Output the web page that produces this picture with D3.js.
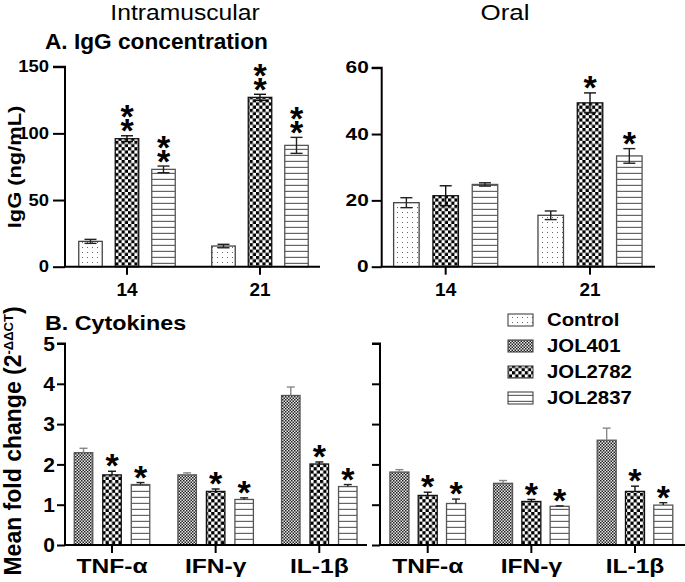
<!DOCTYPE html>
<html><head><meta charset="utf-8">
<script src="https://cdn.jsdelivr.net/npm/d3@7"></script>
<style>
body{margin:0;background:#fff;}
svg{display:block;}
text{font-family:"Liberation Sans",Arial,Helvetica,sans-serif;fill:#000;}
.vstars{writing-mode:vertical-rl;text-orientation:upright;}
</style>
</head><body>
<svg id="chart" width="685" height="582"></svg>
<script>
// ---------- DATA ----------
const days = ["14", "21"];
const igSeries = ["Control", "JOL2782", "JOL2837"];
// Intramuscular IgG (ng/mL)
const imControl = [19.0, 15.5];
const imControlErr = [1.5, 1.3];
const imJOL2782 = [96, 127];
const imJOL2782Err = [2.2, 2.3];
const imJOL2837 = [73, 91];
const imJOL2837Err = [2.5, 6.0];
const imStars2782 = ["**", "**"];
const imStars2837 = ["**", "**"];
// Oral IgG (ng/mL)
const oralControl = [19.3, 15.5];
const oralControlErr = [1.5, 1.3];
const oralJOL2782 = [21.4, 49.4];
const oralJOL2782Err = [3.0, 3.0];
const oralJOL2837 = [24.8, 33.4];
const oralJOL2837Err = [0.5, 2.2];
const oralStars2782 = ["", "*"];
const oralStars2837 = ["", "*"];
const imTicks = [0, 50, 100, 150];
const oralTicks = [0, 20, 40, 60];

const cytokines = ["TNF-α", "IFN-γ", "IL-1β"];
const cytSeries = ["JOL401", "JOL2782", "JOL2837"];
// Intramuscular fold change
const cimJOL401 = [2.29, 1.74, 3.71];
const cimJOL401Err = [0.11, 0.05, 0.21];
const cimJOL2782 = [1.74, 1.33, 2.01];
const cimJOL2782Err = [0.09, 0.06, 0.05];
const cimJOL2837 = [1.50, 1.13, 1.45];
const cimJOL2837Err = [0.05, 0.04, 0.05];
// Oral fold change
const coralJOL401 = [1.81, 1.53, 2.60];
const coralJOL401Err = [0.06, 0.07, 0.30];
const coralJOL2782 = [1.23, 1.08, 1.33];
const coralJOL2782Err = [0.08, 0.05, 0.13];
const coralJOL2837 = [1.03, 0.96, 0.99];
const coralJOL2837Err = [0.11, 0.01, 0.06];
const cytStars = ["*", "*", "*"];
const foldTicks = [0, 1, 2, 3, 4, 5];

const legendSeries = ["Control", "JOL401", "JOL2782", "JOL2837"];

// ---------- SETUP ----------
const svg = d3.select("#chart");
const defs = svg.append("defs");

// patterns
const pDots = defs.append("pattern").attr("id", "p-Control").attr("patternUnits", "userSpaceOnUse")
  .attr("width", 5).attr("height", 5);
pDots.append("rect").attr("width", 5).attr("height", 5).attr("fill", "#fff");
pDots.append("rect").attr("x", 2).attr("y", 2).attr("width", 1).attr("height", 1).attr("fill", "#666");

const pFine = defs.append("pattern").attr("id", "p-JOL401").attr("patternUnits", "userSpaceOnUse")
  .attr("width", 3).attr("height", 3);
pFine.append("rect").attr("width", 3).attr("height", 3).attr("fill", "#e8e8e8");
pFine.append("rect").attr("width", 1.5).attr("height", 1.5).attr("fill", "#222");
pFine.append("rect").attr("x", 1.5).attr("y", 1.5).attr("width", 1.5).attr("height", 1.5).attr("fill", "#222");

const pCheck = defs.append("pattern").attr("id", "p-JOL2782").attr("patternUnits", "userSpaceOnUse")
  .attr("width", 6.4).attr("height", 6.4);
pCheck.append("rect").attr("width", 6.4).attr("height", 6.4).attr("fill", "#fff");
pCheck.append("rect").attr("width", 3.2).attr("height", 3.2).attr("fill", "#000");
pCheck.append("rect").attr("x", 3.2).attr("y", 3.2).attr("width", 3.2).attr("height", 3.2).attr("fill", "#000");

const pStripe = defs.append("pattern").attr("id", "p-JOL2837").attr("patternUnits", "userSpaceOnUse")
  .attr("width", 6).attr("height", 6);
pStripe.append("rect").attr("width", 6).attr("height", 6).attr("fill", "#fff");
pStripe.append("rect").attr("x", 0).attr("y", 4.8).attr("width", 6).attr("height", 1.2).attr("fill", "#666");

const barStroke = {Control: "#444", JOL401: "#555", JOL2782: "#111", JOL2837: "#555"};
const errColor = {Control: "#222", JOL401: "#888", JOL2782: "#111", JOL2837: "#222"};

function stretch(sel, k) {
  sel.each(function () {
    const L = this.getComputedTextLength();
    this.setAttribute("textLength", L * k);
    this.setAttribute("lengthAdjust", "spacingAndGlyphs");
  });
}

const STAR_FS = 34;

function drawPanel(cfg) {
  const g = svg.append("g");
  const x = d3.scaleBand().domain(cfg.groups).range(cfg.band).paddingInner(0).paddingOuter(0);
  const s = cfg.subStep, w = cfg.barW;
  const xs = d3.scaleBand().domain(cfg.series.map(d => d.name))
    .range([-(s + w / 2), s + w / 2]).paddingInner(1 - w / s).paddingOuter(0);
  const y = d3.scaleLinear().domain(cfg.domain).range([cfg.yBot, cfg.yTop]);

  const rows = [];
  cfg.series.forEach(se => {
    cfg.groups.forEach((grp, i) => {
      rows.push({name: se.name, grp, v: se.values[i], e: se.errs[i], star: se.stars ? se.stars[i] : ""});
    });
  });
  const bx = d => x(d.grp) + x.bandwidth() / 2 + xs(d.name);
  const cx = d => bx(d) + xs.bandwidth() / 2;

  // bars
  g.selectAll("rect.bar").data(rows).join("rect").attr("class", "bar")
    .attr("x", bx).attr("width", xs.bandwidth())
    .attr("y", d => y(d.v)).attr("height", d => y(0) - y(d.v))
    .attr("fill", d => `url(#p-${d.name})`)
    .attr("stroke", d => barStroke[d.name]).attr("stroke-width", 1.3);

  // error bars
  const eg = g.append("g");
  const cap = cfg.cap;
  rows.forEach(d => {
    const top = y(d.v + d.e);
    const bot = cfg.twoSided ? y(d.v - d.e) : y(d.v);
    const col = errColor[d.name];
    eg.append("line").attr("x1", cx(d)).attr("x2", cx(d)).attr("y1", top).attr("y2", bot)
      .attr("stroke", col).attr("stroke-width", 1.4);
    eg.append("line").attr("x1", cx(d) - cap / 2).attr("x2", cx(d) + cap / 2).attr("y1", top).attr("y2", top)
      .attr("stroke", col).attr("stroke-width", 1.4);
    if (cfg.twoSided) {
      eg.append("line").attr("x1", cx(d) - cap / 2).attr("x2", cx(d) + cap / 2).attr("y1", bot).attr("y2", bot)
        .attr("stroke", col).attr("stroke-width", 1.4);
    }
    // stars
    const n = d.star.length;
    if (n === 1) {
      g.append("text").attr("x", cx(d)).attr("y", top - 13 + 0.56 * STAR_FS)
        .attr("text-anchor", "middle").attr("font-size", STAR_FS).attr("font-weight", "bold").text(d.star);
    } else if (n > 1) {
      // stacked vertically in one text element
      const upperCenter = top - 13 - (n - 1) * 14;
      g.append("text").attr("class", "vstars").attr("x", cx(d)).attr("y", upperCenter - 0.335 * STAR_FS)
        .attr("font-size", STAR_FS).attr("font-weight", "bold")
        .style("letter-spacing", "-24px").text(d.star);
    }
  });

  // y axis
  const ya = g.append("g").attr("transform", `translate(${cfg.x0},0)`)
    .call(d3.axisLeft(y).tickValues(cfg.ticks).tickSize(cfg.yTick).tickPadding(cfg.yPad)
      .tickFormat(cfg.showYLabels ? d3.format("d") : ""));
  ya.select(".domain").attr("stroke", "#000").attr("stroke-width", 2)
    .attr("d", `M${-cfg.yTick},${cfg.yTop}H0V${cfg.yBot}`);
  ya.selectAll(".tick line").attr("stroke", "#000").attr("stroke-width", 2);
  const yt = ya.selectAll(".tick text").attr("font-size", cfg.yFont).attr("font-weight", "bold")
    .attr("font-family", "Liberation Sans, Arial, sans-serif").attr("fill", "#000");
  if (cfg.showYLabels && cfg.yStretch) stretch(yt, cfg.yStretch);

  // x axis
  const xa = g.append("g").attr("transform", `translate(0,${cfg.yBot})`)
    .call(d3.axisBottom(x).tickSize(8).tickPadding(cfg.xPad));
  xa.select(".domain").remove();
  xa.append("line").attr("x1", cfg.x0 - 1).attr("x2", cfg.x1).attr("y1", 0).attr("y2", 0)
    .attr("stroke", "#000").attr("stroke-width", 2);
  xa.selectAll(".tick line").attr("stroke", "#000").attr("stroke-width", 2);
  const xt = xa.selectAll(".tick text").attr("font-size", cfg.xFont).attr("font-weight", "bold")
    .attr("font-family", "Liberation Sans, Arial, sans-serif").attr("fill", "#000");
  if (cfg.xStretch) stretch(xt, cfg.xStretch);
}

// ---------- PANELS ----------
drawPanel({
  groups: days, band: [60.5, 326.5], subStep: 36.5, barW: 23.5,
  domain: [0, 150], ticks: imTicks, yTop: 66.7, yBot: 266.7, x0: 65, x1: 320,
  yTick: 12, yPad: 4, yFont: 16, yStretch: 1.15, showYLabels: true,
  xPad: 8, xFont: 19, cap: 12, twoSided: true,
  series: [
    {name: "Control", values: imControl, errs: imControlErr},
    {name: "JOL2782", values: imJOL2782, errs: imJOL2782Err, stars: imStars2782},
    {name: "JOL2837", values: imJOL2837, errs: imJOL2837Err, stars: imStars2837}
  ]
});
drawPanel({
  groups: days, band: [373.5, 662.2], subStep: 39.3, barW: 25.5,
  domain: [0, 60], ticks: oralTicks, yTop: 67.7, yBot: 266.7, x0: 381.7, x1: 655,
  yTick: 10, yPad: 3, yFont: 16, yStretch: 1.3, showYLabels: true,
  xPad: 8, xFont: 19, cap: 12, twoSided: true,
  series: [
    {name: "Control", values: oralControl, errs: oralControlErr},
    {name: "JOL2782", values: oralJOL2782, errs: oralJOL2782Err, stars: oralStars2782},
    {name: "JOL2837", values: oralJOL2837, errs: oralJOL2837Err, stars: oralStars2837}
  ]
});
drawPanel({
  groups: cytokines, band: [60.2, 371.1], subStep: 28.5, barW: 18.5,
  domain: [0, 5], ticks: foldTicks, yTop: 343.5, yBot: 545, x0: 65, x1: 367,
  yTick: 8, yPad: 2, yFont: 21, yStretch: 0, showYLabels: true,
  xPad: 5, xFont: 21, xStretch: 1.17, cap: 8, twoSided: false,
  series: [
    {name: "JOL401", values: cimJOL401, errs: cimJOL401Err},
    {name: "JOL2782", values: cimJOL2782, errs: cimJOL2782Err, stars: cytStars},
    {name: "JOL2837", values: cimJOL2837, errs: cimJOL2837Err, stars: cytStars}
  ]
});
drawPanel({
  groups: cytokines, band: [375.9, 686.8], subStep: 28.3, barW: 19,
  domain: [0, 5], ticks: foldTicks, yTop: 343.5, yBot: 545, x0: 380, x1: 685,
  yTick: 8, yPad: 2, yFont: 20, showYLabels: false,
  xPad: 5, xFont: 21, xStretch: 1.17, cap: 8, twoSided: false,
  series: [
    {name: "JOL401", values: coralJOL401, errs: coralJOL401Err},
    {name: "JOL2782", values: coralJOL2782, errs: coralJOL2782Err, stars: cytStars},
    {name: "JOL2837", values: coralJOL2837, errs: coralJOL2837Err, stars: cytStars}
  ]
});

// ---------- TITLES ----------
const t1 = svg.append("text").attr("x", 185).attr("y", 19.5).attr("text-anchor", "middle")
  .attr("font-size", 22).text("Intramuscular");
stretch(t1, 1.12);
const t2 = svg.append("text").attr("x", 505).attr("y", 19.5).attr("text-anchor", "middle")
  .attr("font-size", 22).text("Oral");
stretch(t2, 1.18);
const tA = svg.append("text").attr("x", 45).attr("y", 49).attr("font-size", 22).attr("font-weight", "bold")
  .text("A. IgG concentration");
stretch(tA, 1.03);
const tB = svg.append("text").attr("x", 45).attr("y", 330).attr("font-size", 21).attr("font-weight", "bold")
  .text("B. Cytokines");
stretch(tB, 1.11);

// y labels
const yl1 = svg.append("text").attr("transform", "translate(21,167) rotate(-90)").attr("text-anchor", "middle")
  .attr("font-size", 19).attr("font-weight", "bold").text("IgG (ng/mL)");
stretch(yl1, 1.15);
const yl2 = svg.append("text").attr("transform", "translate(21,441) rotate(-90)").attr("text-anchor", "middle")
  .attr("font-size", 23).attr("font-weight", "bold");
yl2.append("tspan").text("Mean fold change (2");
yl2.append("tspan").attr("font-size", 13).attr("dy", -8).text("-ΔΔCT");
yl2.append("tspan").attr("dy", 8).text(")");

// ---------- LEGEND ----------
const ly = d3.scaleBand().domain(legendSeries).range([307, 411]);
const lg = svg.append("g");
legendSeries.forEach(name => {
  const cy = ly(name) + ly.bandwidth() / 2;
  lg.append("rect").attr("x", 508).attr("y", cy - 6).attr("width", 25).attr("height", 12)
    .attr("fill", `url(#p-${name})`).attr("stroke", "#333").attr("stroke-width", 1);
  const t = lg.append("text").attr("x", 547).attr("y", cy + 6.3).attr("font-size", 18)
    .attr("font-weight", "bold").text(name);
  stretch(t, 1.13);
});
</script>
</body></html>
